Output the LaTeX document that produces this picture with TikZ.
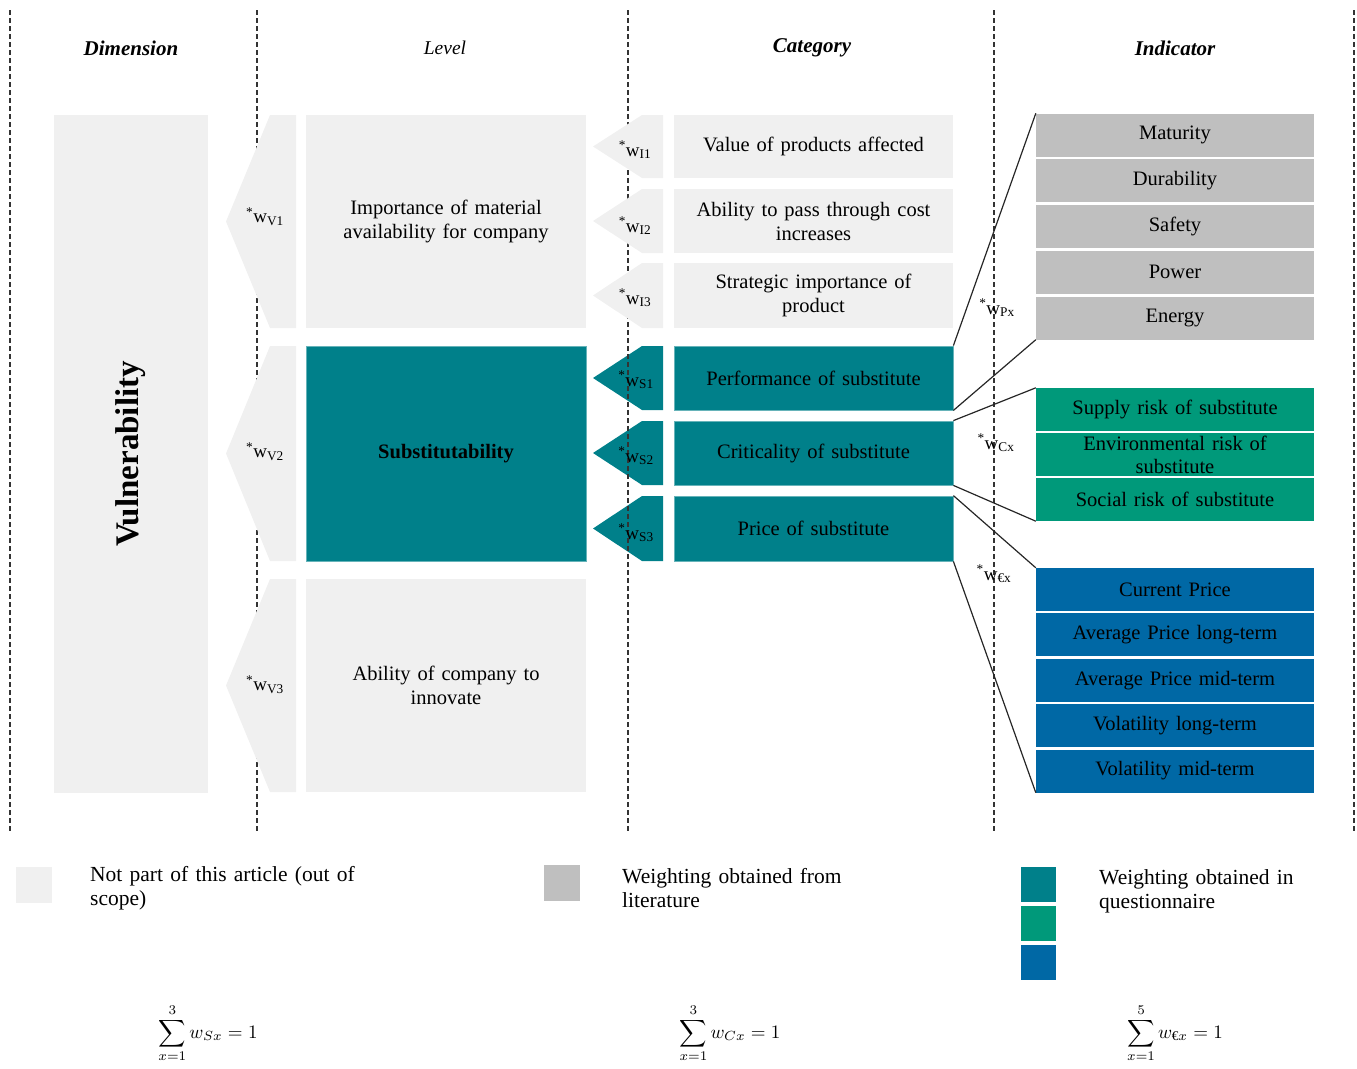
\documentclass[tikz,border=0pt]{standalone}
\usepackage{amsmath}
\usepackage{fontspec}
\setmainfont{Liberation Serif}[WordSpace=1.35]

\definecolor{outgray}{HTML}{F0F0F0}
\definecolor{litgray}{HTML}{BFBFBF}
\definecolor{qteal}{HTML}{00808A}
\definecolor{qgreen}{HTML}{00997A}
\definecolor{qblue}{HTML}{0068A5}

\tikzstyle{txt}=[font=\fontsize{20.5}{24}\selectfont, align=center, inner sep=0pt]
\tikzstyle{outbox}=[txt, fill=outgray, minimum width=279]
\tikzstyle{tealbox}=[txt, fill=qteal, draw=qteal!60!white, line width=0.8pt, minimum width=279]
\tikzstyle{indbox}=[txt, minimum width=278, minimum height=43]
\tikzstyle{weight}=[font=\fontsize{19}{20}\selectfont, inner sep=0pt]
\tikzstyle{head}=[font=\fontsize{21}{24}\selectfont\bfseries\itshape]
\tikzstyle{sep}=[dashed, dash pattern=on 5pt off 3pt, line width=1.3pt, black!80]
\tikzstyle{link}=[line width=1.2pt, black!85]
\tikzstyle{legsq}=[inner sep=0pt, minimum size=36]
\tikzstyle{legtxt}=[font=\fontsize{21.5}{24}\selectfont, align=left, anchor=west, inner sep=0pt]
\tikzstyle{sumeq}=[inner sep=0pt]

\begin{document}
\begin{tikzpicture}[x=1pt, y=-1pt]
    \useasboundingbox (0,0) rectangle (1357,1068);
    \fill[qteal] (663,346) -- (642,346) -- (593,378) -- (642,410) -- (663,410) -- cycle;
    \fill[qteal] (663,421) -- (642,421) -- (593,453) -- (642,485) -- (663,485) -- cycle;
    \fill[qteal] (663,496) -- (642,496) -- (593,528.5) -- (642,561) -- (663,561) -- cycle;
    \draw[sep] (10,10) -- (10,832);
    \draw[sep] (257,10) -- (257,832);
    \draw[sep] (628,10) -- (628,832);
    \draw[sep] (994,10) -- (994,832);
    \draw[sep] (1354,10) -- (1354,832);
    \node[head] (hdim) at (131,48) {Dimension};
    \node[font=\fontsize{19.5}{22}\selectfont\itshape] (hlev) at (445,48) {Level};
    \node[head] (hcat) at (812,48) {Category};
    \node[head] (hind) at (1175,48) {Indicator};
    \node[outbox, minimum width=154, minimum height=678] (vuln) at (131,454) {};
    \node[rotate=90, font=\fontsize{33}{34}\selectfont\bfseries] (vulntxt) at (131,454) {Vulnerability};
    \fill[outgray] (296,115) -- (270,115) -- (226,221.5) -- (270,328) -- (296,328) -- cycle;
    \fill[outgray] (296,346) -- (270,346) -- (226,453.5) -- (270,561) -- (296,561) -- cycle;
    \fill[outgray] (296,579) -- (270,579) -- (226,685.5) -- (270,792) -- (296,792) -- cycle;
    \node[weight] (wv1) at (265,217) {\textsuperscript{*}w\textsubscript{V1}};
    \node[weight] (wv2) at (265,452) {\textsuperscript{*}w\textsubscript{V2}};
    \node[weight] (wv3) at (265,685) {\textsuperscript{*}w\textsubscript{V3}};
    \node[outbox, minimum width=280, minimum height=213] (imp) at (446,221.5) {Importance of material\\availability for company};
    \node[tealbox, minimum width=280, minimum height=215] (subst) at (446,453.5) {\bfseries Substitutability};
    \node[outbox, minimum width=280, minimum height=213] (innov) at (446,685.5) {Ability of company to\\innovate};
    \fill[outgray] (663,115) -- (642,115) -- (593,146.5) -- (642,178) -- (663,178) -- cycle;
    \fill[outgray] (663,189) -- (642,189) -- (593,221) -- (642,253) -- (663,253) -- cycle;
    \fill[outgray] (663,263) -- (642,263) -- (593,295.5) -- (642,328) -- (663,328) -- cycle;
    \node[weight] (wi1) at (635,150) {\textsuperscript{*}w\textsubscript{I1}};
    \node[weight] (wi2) at (635,226) {\textsuperscript{*}w\textsubscript{I2}};
    \node[weight] (wi3) at (635,298) {\textsuperscript{*}w\textsubscript{I3}};
    \node[weight] (ws1) at (636,380) {\textsuperscript{*}w\textsubscript{S1}};
    \node[weight] (ws2) at (636,456) {\textsuperscript{*}w\textsubscript{S2}};
    \node[weight] (ws3) at (636,533) {\textsuperscript{*}w\textsubscript{S3}};
    \node[outbox, minimum height=63] (value) at (813.5,146.5) {Value of products affected};
    \node[outbox, minimum height=64] (pass) at (813.5,221) {Ability to pass through cost\\increases};
    \node[outbox, minimum height=65] (strat) at (813.5,295.5) {Strategic importance of\\product};
    \node[tealbox, minimum height=64] (perf) at (813.5,378) {Performance of substitute};
    \node[tealbox, minimum height=64] (crit) at (813.5,453) {Criticality of substitute};
    \node[tealbox, minimum height=65] (price) at (813.5,528.5) {Price of substitute};
    \node[indbox, fill=litgray] (matur) at (1175,135) {Maturity};
    \node[indbox, fill=litgray] (durab) at (1175,180.5) {Durability};
    \node[indbox, fill=litgray] (safety) at (1175,226.5) {Safety};
    \node[indbox, fill=litgray] (power) at (1175,272) {Power};
    \node[indbox, fill=litgray] (energy) at (1175,318) {Energy};
    \node[indbox, fill=qgreen] (supply) at (1175,409.5) {Supply risk of substitute};
    \node[indbox, fill=qgreen, font=\fontsize{20.5}{23}\selectfont] (envir) at (1175,454.5) {Environmental risk of\\substitute};
    \node[indbox, fill=qgreen] (social) at (1175,499.5) {Social risk of substitute};
    \node[indbox, fill=qblue] (curr) at (1175,589.5) {Current Price};
    \node[indbox, fill=qblue] (avglong) at (1175,634.5) {Average Price long-term};
    \node[indbox, fill=qblue] (avgmid) at (1175,680.5) {Average Price mid-term};
    \node[indbox, fill=qblue] (vollong) at (1175,725.5) {Volatility long-term};
    \node[indbox, fill=qblue] (volmid) at (1175,771) {Volatility mid-term};
    \draw[link] (perf.north east) to (matur.north west);
    \draw[link] (perf.south east) to (energy.south west);
    \draw[link] (crit.north east) to (supply.north west);
    \draw[link] (crit.south east) to (social.south west);
    \draw[link] (price.north east) to (curr.north west);
    \draw[link] (price.south east) to (volmid.south west);
    \node[weight] (wpx) at (997,308) {\textsuperscript{*}w\textsubscript{Px}};
    \node[weight] (wcx) at (996,443) {\textsuperscript{*}w\textsubscript{Cx}};
    \node[weight] (wex) at (994,574) {\textsuperscript{*}w\textsubscript{€x}};
    \node[legsq, fill=outgray] (leg1) at (34,885) {};
    \node[legtxt] (leg1txt) at (90,888) {Not part of this article (out of\\scope)};
    \node[legsq, fill=litgray] (leg2) at (561.5,883) {};
    \node[legtxt] (leg2txt) at (622,888) {Weighting obtained from\\literature};
    \node[legsq, minimum size=35, fill=qteal] (leg3a) at (1038.5,884.5) {};
    \node[legsq, minimum size=35, fill=qgreen] (leg3b) at (1038.5,923.5) {};
    \node[legsq, minimum size=35, fill=qblue] (leg3c) at (1038.5,962.5) {};
    \node[legtxt] (leg3txt) at (1099,891) {Weighting obtained in\\questionnaire};
    \node[sumeq] (sums) at (208,1033) {\scalebox{1.9}{$\displaystyle\sum_{x=1}^{3} w_{Sx} = 1$}};
    \node[sumeq] (sumc) at (730,1033) {\scalebox{1.9}{$\displaystyle\sum_{x=1}^{3} w_{Cx} = 1$}};
    \node[sumeq] (sume) at (1175,1033) {\scalebox{1.9}{$\displaystyle\sum_{x=1}^{5} w_{\text{€}x} = 1$}};
\end{tikzpicture}
\end{document}
